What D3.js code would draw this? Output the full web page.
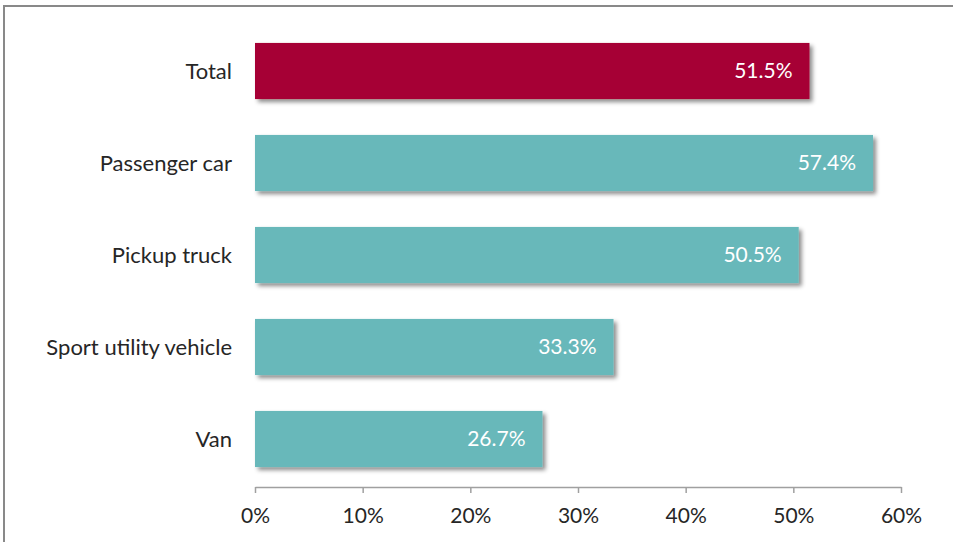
<!DOCTYPE html>
<html><head><meta charset="utf-8">
<script src="https://cdn.jsdelivr.net/npm/d3@7"></script>
<style>body{margin:0;background:#fff;} svg{display:block;}</style>
</head><body>
<svg id="chart" width="953" height="542"></svg>
<script>
const categories = ["Total", "Passenger car", "Pickup truck", "Sport utility vehicle", "Van"];
const values = [51.5, 57.4, 50.5, 33.3, 26.7];
const barColors = ["#A60535", "#67B8BA", "#67B8BA", "#67B8BA", "#67B8BA"];
const tickValues = [0, 10, 20, 30, 40, 50, 60];
const tickLabels = ["0%", "10%", "20%", "30%", "40%", "50%", "60%"];

const svg = d3.select("#chart");
const font = "Lato, 'Open Sans', sans-serif";

const defs = svg.append("defs");
const f = defs.append("filter").attr("id","shadow").attr("x","-10%").attr("y","-20%").attr("width","130%").attr("height","160%");
f.append("feDropShadow").attr("dx",3).attr("dy",3).attr("stdDeviation",2.2).attr("flood-color","#000").attr("flood-opacity",0.45);

svg.append("rect").attr("x",4).attr("y",6).attr("width",970).attr("height",560)
  .attr("fill","none").attr("stroke","#898989").attr("stroke-width",2);

const x = d3.scaleLinear().domain([0,60]).range([255,901]);
const y = d3.scaleBand().domain(categories).range([25,485]).paddingInner(0.39).paddingOuter(0.195);

const axis = d3.axisBottom(x).tickValues(tickValues).tickFormat((d,i)=>tickLabels[i]).tickSize(6).tickSizeOuter(0);
const ag = svg.append("g").attr("transform","translate(0,487)").call(axis);
ag.select(".domain").attr("stroke","#A0A0A0").attr("stroke-width",1.5);
ag.selectAll(".tick line").attr("stroke","#A0A0A0").attr("stroke-width",1.5);
ag.selectAll(".tick text").attr("y",36).attr("dy",0).attr("font-family",font).attr("font-size",21).attr("fill","#262626");

svg.append("g").selectAll("rect").data(categories).join("rect")
  .attr("x", x(0)).attr("y", d=>y(d)).attr("width", (d,i)=>x(values[i])-x(0)).attr("height", y.bandwidth())
  .attr("fill", (d,i)=>barColors[i]).attr("filter","url(#shadow)");

svg.append("g").selectAll("text").data(categories).join("text")
  .attr("x", 232).attr("y", d=>y(d)+y.bandwidth()/2).attr("dy","0.35em")
  .attr("text-anchor","end").attr("font-family",font).attr("font-size",22).attr("fill","#262626")
  .text(d=>d);

svg.append("g").selectAll("text").data(categories).join("text")
  .attr("x", (d,i)=>x(values[i])-17).attr("y", d=>y(d)+y.bandwidth()/2).attr("dy","0.35em")
  .attr("text-anchor","end").attr("font-family",font).attr("font-size",21).attr("fill","#ffffff")
  .text((d,i)=>values[i].toFixed(1)+"%");
</script>
</body></html>
